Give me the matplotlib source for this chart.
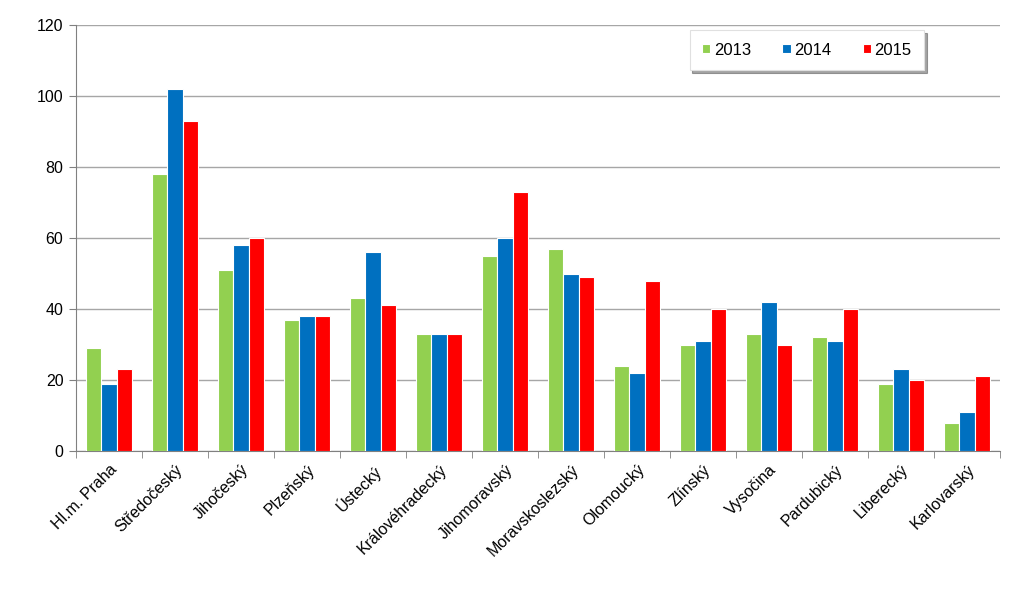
import matplotlib.pyplot as plt
import numpy as np

plt.rcParams["font.family"] = ["Liberation Sans", "DejaVu Sans"]

regions = ["Hl.m. Praha", "Středočeský", "Jihočeský", "Plzeňský", "Ústecký",
           "Královéhradecký", "Jihomoravský", "Moravskoslezský", "Olomoucký",
           "Zlínský", "Vysočina", "Pardubický", "Liberecký", "Karlovarský"]
years = ["2013", "2014", "2015"]
v2013 = [29, 78, 51, 37, 43, 33, 55, 57, 24, 30, 33, 32, 19, 8]
v2014 = [19, 102, 58, 38, 56, 33, 60, 50, 22, 31, 42, 31, 23, 11]
v2015 = [23, 93, 60, 38, 41, 33, 73, 49, 48, 40, 30, 40, 20, 21]
colors = ["#92D050", "#0070C0", "#FF0000"]

fig = plt.figure(figsize=(10.24, 5.94), dpi=100)
ax = fig.add_axes([76 / 1024, 1 - 451 / 594, 924 / 1024, 426 / 594])

x = np.arange(len(regions))
w = 0.235
for i, (vals, c, lab) in enumerate(zip([v2013, v2014, v2015], colors, years)):
    ax.bar(x + (i - 1) * w, vals, width=w, color=c, edgecolor="white",
           linewidth=0.8, label=lab, zorder=3)

ax.set_xlim(-0.5, len(regions) - 0.5)
ax.set_ylim(0, 120)
ax.set_yticks(range(0, 121, 20))
ax.yaxis.grid(True, color="#A6A6A6", linewidth=1, zorder=0)

ax.set_xticks(x)
ax.set_xticklabels(regions, rotation=45, ha="right", rotation_mode="anchor",
                   fontsize=11.5)
ax.tick_params(axis="x", which="major", length=0, pad=8)
ax.set_xticks(np.arange(-0.5, len(regions), 1), minor=True)
ax.tick_params(axis="x", which="minor", length=5, color="#808080")
ax.tick_params(axis="y", length=5, color="#808080", labelsize=11.5, pad=4)

for s in ["top", "right"]:
    ax.spines[s].set_visible(False)
for s in ["left", "bottom"]:
    ax.spines[s].set_color("#808080")

leg = ax.legend(loc="upper right", bbox_to_anchor=(0.918, 0.988), ncol=3,
                fontsize=12, frameon=True, fancybox=False, shadow=True,
                handlelength=0.5, handleheight=0.5, columnspacing=1.9,
                handletextpad=0.2, borderpad=0.75, borderaxespad=0)
leg.get_frame().set_edgecolor("#E0E0E0")
leg.get_frame().set_linewidth(0.8)

fig.savefig("out.png", dpi=100)
